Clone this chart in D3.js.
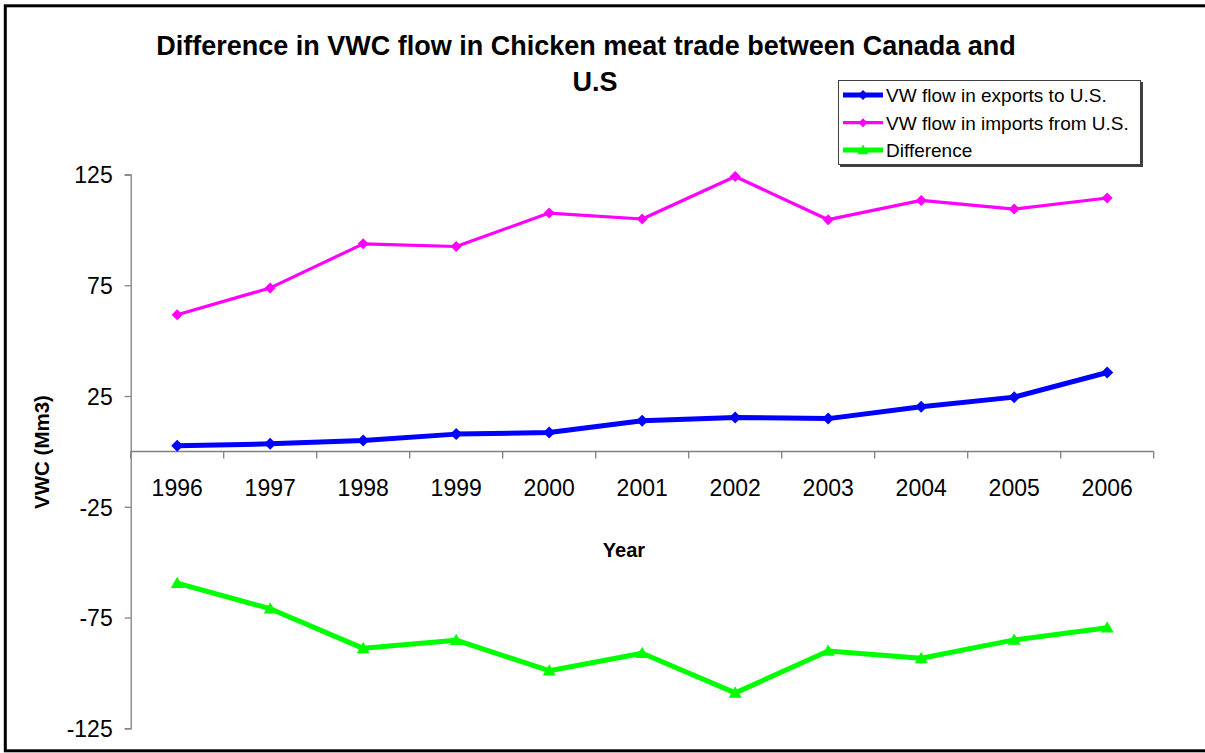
<!DOCTYPE html>
<html>
<head>
<meta charset="utf-8">
<script src="https://cdn.jsdelivr.net/npm/d3@7"></script>
<style>
  html, body { margin: 0; padding: 0; background: #fff; }
  svg text { font-family: Arial, "Liberation Sans", sans-serif; fill: #000; }
</style>
</head>
<body>
<svg id="chart" width="1205" height="753"></svg>
<script>
// Years on the category axis
const years = ["1996","1997","1998","1999","2000","2001","2002","2003","2004","2005","2006"];
// Virtual water content flows, Mm3
const exportsToUS   = [2.6, 3.4, 4.9, 7.8, 8.5, 13.8, 15.3, 14.8, 20.2, 24.5, 35.6];
const importsFromUS = [61.7, 73.8, 93.7, 92.5, 107.6, 104.9, 124.1, 104.6, 113.3, 109.4, 114.4];
const difference    = [-59.5, -71.0, -88.9, -85.2, -99.0, -91.1, -109.0, -90.1, -93.4, -85.1, -79.6];
const yTicks = [125, 75, 25, -25, -75, -125];
const seriesNames = ["VW flow in exports to U.S.", "VW flow in imports from U.S.", "Difference"];

const svg = d3.select("#chart");

// outer frame
svg.append("rect")
  .attr("x", 5.3).attr("y", 5.8).attr("width", 1220).attr("height", 745)
  .attr("fill", "#fff").attr("stroke", "#000").attr("stroke-width", 3);

const x = d3.scaleBand().domain(years).range([130.7, 1153.7]).padding(0);
const y = d3.scaleLinear().domain([-125, 125]).range([728.3, 174.5]);
const cx = d => x(d) + x.bandwidth() / 2;

// y axis
const yAxis = svg.append("g")
  .attr("transform", "translate(130.7,0)")
  .call(d3.axisLeft(y).tickValues(yTicks).tickSize(6).tickPadding(12).tickFormat(d => String(d)));
yAxis.select(".domain").attr("stroke", "#808080").attr("stroke-width", 1.3);
yAxis.selectAll(".tick line").attr("stroke", "#808080").attr("stroke-width", 1.3);
yAxis.selectAll(".tick text").style("font-size", "23px").attr("dy", "0.36em")
  .style("font-family", "Arial, 'Liberation Sans', sans-serif");

// x axis crossing at zero, ticks at category boundaries
const y0 = y(0);
const xAxis = svg.append("g").attr("transform", `translate(0,${y0})`);
xAxis.append("line")
  .attr("x1", x.range()[0]).attr("x2", x.range()[1])
  .attr("stroke", "#808080").attr("stroke-width", 1.5);
const bounds = years.map(d => x(d)).concat([x.range()[1]]);
xAxis.selectAll("line.tk").data(bounds).join("line").attr("class", "tk")
  .attr("x1", d => d).attr("x2", d => d).attr("y1", 0).attr("y2", 7)
  .attr("stroke", "#808080").attr("stroke-width", 1.3);
xAxis.selectAll("text.lbl").data(years).join("text").attr("class", "lbl")
  .attr("x", d => cx(d)).attr("y", 45).attr("text-anchor", "middle")
  .style("font-size", "23px").text(d => d);

// line series
const line = d3.line().x((d, i) => cx(years[i])).y(d => y(d));
const series = [
  { name: seriesNames[0], values: exportsToUS,   color: "#0000FF", width: 5, marker: "diamond", size: 12 },
  { name: seriesNames[1], values: importsFromUS, color: "#FF00FF", width: 3.2, marker: "diamond", size: 11 },
  { name: seriesNames[2], values: difference,    color: "#00FF00", width: 5, marker: "triangle", size: 13 }
];

function markerPath(type, s) {
  const h = s / 2;
  if (type === "diamond") return `M0,${-h}L${h},0L0,${h}L${-h},0Z`;
  return `M0,${-h}L${h},${h * 0.75}L${-h},${h * 0.75}Z`;
}

series.forEach(s => {
  svg.append("path").datum(s.values)
    .attr("d", line).attr("fill", "none")
    .attr("stroke", s.color).attr("stroke-width", s.width)
    .attr("stroke-linejoin", "round");
  svg.selectAll(null).data(s.values).join("path")
    .attr("transform", (d, i) => `translate(${cx(years[i])},${y(d)})`)
    .attr("d", markerPath(s.marker, s.size))
    .attr("fill", s.color);
});

// title
const title = svg.append("text").attr("text-anchor", "middle")
  .style("font-size", "27px").style("font-weight", "bold");
title.append("tspan").attr("x", 586).attr("y", 55).text("Difference in VWC flow in Chicken meat trade between Canada and");
title.append("tspan").attr("x", 595).attr("y", 91).text("U.S");

// axis titles
svg.append("text").attr("x", 624).attr("y", 557).attr("text-anchor", "middle")
  .style("font-size", "20px").style("font-weight", "bold").text("Year");
svg.append("text").attr("transform", "translate(49,452) rotate(-90)").attr("text-anchor", "middle")
  .style("font-size", "20.5px").style("font-weight", "bold").text("VWC (Mm3)");

// legend
const lg = svg.append("g");
lg.append("rect").attr("x", 840).attr("y", 82).attr("width", 303).attr("height", 85).attr("fill", "#404040");
lg.append("rect").attr("x", 838.5).attr("y", 80.5).attr("width", 302).attr("height", 84)
  .attr("fill", "#fff").attr("stroke", "#404040").attr("stroke-width", 1);
const rowsY = [95, 122.7, 150];
series.forEach((s, i) => {
  const g = lg.append("g").attr("transform", `translate(0,${rowsY[i]})`);
  g.append("line").attr("x1", 843).attr("x2", 883).attr("y1", 0).attr("y2", 0)
    .attr("stroke", s.color).attr("stroke-width", s.width);
  g.append("path").attr("transform", "translate(863,0)").attr("d", markerPath(s.marker, s.size - 2)).attr("fill", s.color);
  g.append("text").attr("x", 886).attr("y", 0).attr("dy", "0.36em")
    .style("font-size", "19px").text(s.name);
});
</script>
</body>
</html>
